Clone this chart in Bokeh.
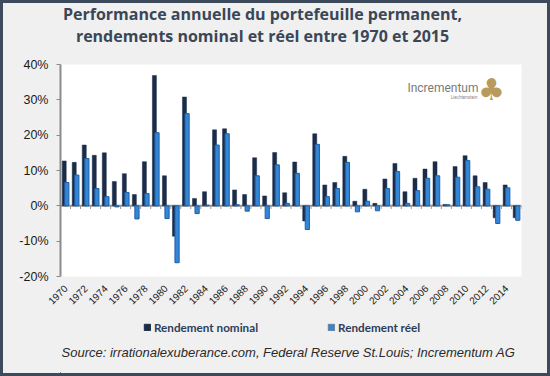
import math
from bokeh.plotting import figure
from bokeh.layouts import column
from bokeh.models import (Range1d, Span, Label, Legend, LegendItem, FixedTicker,
                          NumeralTickFormatter, ColumnDataSource)
from bokeh.transform import dodge
from bokeh.embed import file_html
from bokeh.resources import INLINE

# ---------------- data ----------------
years = list(range(1970, 2016))
nominal = [12.7, 12.3, 17.2, 14.3, 15.0, 6.9, 9.1, 3.2, 12.5, 36.9,
           8.5, -8.6, 30.8, 2.1, 4.0, 21.5, 21.8, 4.5, 3.2, 13.6,
           2.8, 15.1, 3.7, 12.4, -4.3, 20.4, 5.9, 6.6, 14.0, 1.3,
           4.7, 0.7, 7.6, 12.0, 4.0, 7.8, 10.4, 12.5, 0.4, 11.1,
           14.2, 8.5, 6.6, -3.4, 5.9, -3.4]
real = [6.6, 8.7, 13.4, 4.9, 2.6, -0.3, 3.8, -3.7, 3.5, 20.7,
        -3.6, -16.1, 26.1, -2.2, 0.2, 17.2, 20.4, 0.3, -1.5, 8.5,
        -3.6, 11.6, 0.7, 9.2, -6.7, 17.4, 2.6, 4.9, 12.3, -1.7,
        1.3, -1.4, 4.9, 9.7, 0.7, 4.3, 7.8, 8.5, 0.3, 8.1,
        12.8, 5.4, 4.7, -5.0, 5.1, -4.1]
tick_years = years[::2]
y_ticks = [-0.2, -0.1, 0.0, 0.1, 0.2, 0.3, 0.4]
title_lines = ["Performance annuelle du portefeuille permanent,",
               "rendements nominal et réel entre 1970 et 2015"]
legend_labels = ["Rendement nominal", "Rendement réel"]
source_text = "Source: irrationalexuberance.com, Federal Reserve St.Louis; Incrementum AG"
logo_text = "Incrementum"
logo_sub = "Liechtenstein"

BG = "#f0f0f0"
NOM_FILL, NOM_LINE = "#1b2c48", "#1b2c48"
REAL_FILL, REAL_LINE = "#3386d6", "#1f5fa5"
W = 544
LEFT, RIGHT = 57, 26

src = ColumnDataSource(dict(
    year=years,
    nominal=[v / 100 for v in nominal],
    real=[v / 100 for v in real],
))
edges = ColumnDataSource(dict(x=[y - 0.5 for y in years] + [years[-1] + 0.5]))


def blank(h):
    # strips share the main plot's frame columns; keep 1 unit = 1 pixel
    f = figure(width=W, height=h, x_range=Range1d(LEFT, W - RIGHT),
               y_range=Range1d(0, h), x_axis_type=None, y_axis_type=None,
               toolbar_location=None, output_backend="svg",
               min_border_left=LEFT, min_border_right=RIGHT,
               min_border_top=0, min_border_bottom=0, outline_line_color=None,
               background_fill_color=BG, border_fill_color=BG)
    f.grid.visible = False
    return f


# ---------------- title strip ----------------
TOP_H = 44
pt = blank(TOP_H)
for i, t in enumerate(title_lines):
    pt.add_layout(Label(x=259, y=34 - 22 * i, text=t, text_align="center",
                        text_baseline="middle", text_font="Open Sans",
                        text_font_style="bold", text_font_size="16px",
                        text_color="#3b4656"))

# ---------------- main chart ----------------
MAIN_H = 263
p = figure(width=W, height=MAIN_H,
           x_range=Range1d(years[0] - 0.5, years[-1] + 0.5),
           y_range=Range1d(y_ticks[0], y_ticks[-1]),
           output_backend="svg", toolbar_location=None,
           min_border_left=LEFT, min_border_right=RIGHT,
           min_border_top=17, min_border_bottom=33,
           background_fill_color="white", border_fill_color=BG,
           outline_line_color=None)
p.xgrid.visible = False
p.ygrid.visible = False

p.yaxis.ticker = FixedTicker(ticks=y_ticks)
p.yaxis.formatter = NumeralTickFormatter(format="0%")
p.yaxis.axis_line_color = "#8c8c8c"
p.yaxis.axis_line_width = 2
p.yaxis.major_tick_line_color = "#8c8c8c"
p.yaxis.major_tick_out = 4
p.yaxis.major_tick_in = 0
p.yaxis.minor_tick_line_color = None
p.yaxis.major_label_text_font = "Liberation Sans"
p.yaxis.major_label_text_font_size = "12.5px"
p.yaxis.major_label_text_color = "#1a1a1a"
p.yaxis.major_label_standoff = 8

p.xaxis.ticker = FixedTicker(ticks=tick_years)
p.xaxis.axis_line_color = None
p.xaxis.major_tick_line_color = None
p.xaxis.minor_tick_line_color = None
p.xaxis.major_label_orientation = math.pi / 4
p.xaxis.major_label_text_font = "Liberation Sans"
p.xaxis.major_label_text_font_size = "10px"
p.xaxis.major_label_text_color = "#1a1a1a"
p.xaxis.major_label_standoff = 4

p.add_layout(Span(location=0, dimension="width", line_color="#9a9a9a",
                  line_width=2, level="underlay"))
p.segment(x0="x", y0=0, x1="x", y1=-0.009, source=edges,
          line_color="#9a9a9a", line_width=1)

p.vbar(x=dodge("year", -0.13, range=p.x_range), top="nominal", bottom=0,
       width=0.4, source=src, fill_color=NOM_FILL, line_color=NOM_LINE,
       line_width=0.5)
p.vbar(x=dodge("year", 0.13, range=p.x_range), top="real", bottom=0,
       width=0.42, source=src, fill_color=REAL_FILL, line_color=REAL_LINE,
       line_width=1)

# logo
p.add_layout(Label(x=418, y=189, x_units="screen", y_units="screen",
                   text=logo_text, text_align="right", text_baseline="middle",
                   text_font="Roboto", text_font_size="12px", text_color="#7a7a7a"))
p.add_layout(Label(x=417, y=179, x_units="screen", y_units="screen",
                   text=logo_sub, text_align="right", text_baseline="middle",
                   text_font="Roboto", text_font_size="4.5px", text_color="#8a8a8a"))
p.add_layout(Label(x=431, y=187, x_units="screen", y_units="screen",
                   text="♣", text_align="center", text_baseline="middle",
                   text_font="DejaVu Sans", text_font_size="30px", text_color="#b89a5c"))

# ---------------- legend + source strip ----------------
BOT_H = 63
pb = blank(BOT_H)
# hidden helper renderers (outside the visible range) that carry the legend swatches
hid = ColumnDataSource(dict(x=[0], top=[1]))
g1 = pb.vbar(x="x", top="top", width=1, source=hid,
             fill_color=NOM_FILL, line_color=NOM_LINE)
g2 = pb.vbar(x="x", top="top", width=1, source=hid,
             fill_color=REAL_FILL, line_color="#6a7f99")
legend = Legend(items=[LegendItem(label=legend_labels[0], renderers=[g1]),
                       LegendItem(label=legend_labels[1], renderers=[g2])],
                location=(83, 39), orientation="horizontal", spacing=69,
                glyph_width=8, glyph_height=8, label_standoff=3,
                label_height=8, label_text_font="Lato",
                label_text_font_style="bold", label_text_font_size="11.7px",
                label_text_color="#2d3d5a", background_fill_alpha=0,
                border_line_color=None, padding=0, margin=0)
pb.add_layout(legend)
pb.add_layout(Label(x=LEFT + 1, y=21, text=source_text, text_baseline="middle",
                    text_font="Liberation Sans", text_font_style="italic",
                    text_font_size="13px", text_color="#2a2a2a"))

layout = column(pt, p, pb, spacing=0,
                styles={"border": "3px solid #3d4a5c", "background-color": BG})

open("out.html", "w").write(file_html(layout, INLINE))
